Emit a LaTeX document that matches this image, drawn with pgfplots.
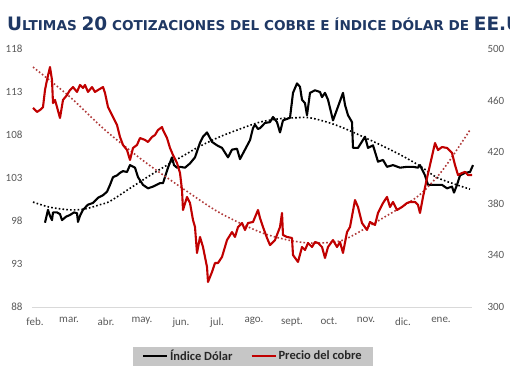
\documentclass[border=0pt]{standalone}
\usepackage{fontspec}
\setmainfont{Carlito}
\newfontfamily\titlefont{DejaVu Sans}
\usepackage{pgfplots}
\pgfplotsset{compat=1.18}
\usepackage{pgfplotstable}

\definecolor{titleblue}{HTML}{1F3864}
\definecolor{cured}{HTML}{C00000}
\definecolor{trendred}{HTML}{B03A3A}
\definecolor{tickgray}{HTML}{595959}
\definecolor{leggray}{HTML}{C6C6C6}
\definecolor{axgray}{HTML}{D9D9D9}

% t = position along the time axis (feb. = 35 ... ene. = 441), v = value
\pgfplotstableread{
t v
45 97.8
48 99.3
50 98.6
52 98.1
53 99.0
57 99.0
60 98.8
62 98.1
66 98.5
70 98.7
74 99.0
77 98.9
78 97.9
80 98.6
83 99.3
88 99.9
93 100.1
98 100.7
103 101.0
107 101.4
110 102.2
113 103.1
117 103.3
120 103.6
123 103.8
127 103.7
130 104.5
135 104.2
138 103.1
143 102.2
148 101.8
153 102.0
160 102.4
163 102.4
168 104.2
172 105.4
174 104.5
177 104.2
180 104.3
185 104.2
190 104.7
195 105.4
200 107.1
203 107.8
207 108.3
212 107.2
217 106.8
222 106.5
228 105.4
232 106.3
237 106.4
240 105.2
245 106.3
250 107.4
253 108.8
255 109.2
258 108.7
260 108.8
265 109.4
270 109.5
273 110.1
277 109.5
280 108.3
283 109.7
290 110.0
293 112.9
297 114.0
300 113.6
302 112.1
305 111.7
307 110.3
310 112.9
315 113.2
320 113.0
322 112.4
325 112.9
328 112.1
333 109.7
338 111.3
343 112.9
345 111.5
348 110.3
352 109.5
353 106.5
358 106.5
365 107.8
368 106.5
373 106.8
378 104.9
383 105.1
387 104.3
393 104.5
400 104.2
407 104.3
413 104.3
418 104.2
420 104.5
425 103.3
428 102.2
435 102.2
442 102.2
447 101.8
452 102.0
454 101.3
457 102.2
460 103.3
465 103.6
470 103.7
473 104.5
}\dolar

\pgfplotstableread{
t v
33 454.3
37 451.2
40 452.7
43 455.0
45 468.2
47 476.0
50 486.0
52 476.0
53 458.1
55 460.5
57 455.0
60 446.5
63 460.5
67 464.3
70 468.2
73 470.5
77 466.7
80 472.1
83 469.8
85 472.1
88 466.7
92 470.5
95 466.7
98 468.2
103 470.5
105 465.9
108 455.0
113 447.3
117 441.1
120 431.8
123 425.6
127 421.7
130 414.0
133 423.3
137 425.6
140 431.0
145 429.5
148 427.9
152 431.8
155 433.3
158 437.2
162 439.5
163 437.2
167 431.0
170 423.3
173 417.8
177 411.6
180 403.9
182 390.7
183 375.2
187 385.3
190 380.6
193 367.4
195 362.0
197 341.9
200 354.3
203 346.5
207 331.0
208 319.4
212 327.1
215 334.1
218 334.1
222 338.8
227 351.9
232 358.1
235 354.3
238 362.0
242 365.1
245 359.7
248 365.1
253 365.9
258 375.2
260 369.0
263 362.0
267 353.5
270 348.0
275 351.9
280 362.0
282 372.9
283 355.8
287 354.3
292 353.5
293 340.3
298 334.9
302 346.5
305 344.2
308 349.6
312 346.5
315 350.4
318 349.6
322 346.5
325 338.0
328 346.5
333 351.9
337 346.5
340 350.4
343 341.9
347 358.1
350 362.0
355 382.9
358 377.5
362 365.1
367 359.7
370 365.9
375 363.6
378 372.9
383 380.6
387 385.3
390 377.5
393 381.4
397 375.2
402 377.5
407 380.6
410 381.4
415 381.4
418 379.1
420 372.9
423 385.3
427 400.0
430 410.1
435 427.1
438 421.7
442 424.0
447 423.3
452 419.4
455 410.1
458 402.3
462 403.9
465 404.7
468 402.3
472 402.3
}\cobre

\pgfplotstableread{
t v
33 100.2
50 99.6
70 99.3
85 99.4
100 99.9
110 100.3
130 101.8
150 103.3
170 104.7
185 105.7
200 106.7
220 107.8
240 108.7
260 109.5
280 109.9
295 110.0
310 110.0
335 109.2
363 107.8
397 105.9
420 104.4
438 103.0
470 101.7
}\dolartrend

\pgfplotstableread{
t v
33 486.0
70 462.8
105 437.2
145 412.4
185 390.7
220 372.9
260 358.1
288 351.9
310 349.6
335 350.4
350 354.3
383 369.0
417 385.3
437 400.8
450 414.0
470 437.2
}\cobretrend

\begin{document}
\begin{tikzpicture}[x=1pt,y=1pt]
\useasboundingbox (-32,-75) rectangle (478,307);
\begin{scope}
\clip (-32,-75) rectangle (478,307);
\node[anchor=base west, inner sep=0, text=titleblue] at (-25,276)
 {\titlefont\bfseries{\fontsize{18.5}{18}\selectfont U}{\fontsize{13.6}{13}\selectfont LTIMAS }{\fontsize{18.5}{18}\selectfont 20}{\fontsize{13.6}{13}\selectfont{} COTIZACIONES DEL COBRE E ÍNDICE DÓLAR DE }{\fontsize{18.5}{18}\selectfont EE.UU.}};
\end{scope}

\begin{axis}[
  width=440pt, height=258pt, scale only axis,
  xmin=32, xmax=472, ymin=88, ymax=118,
  ytick={88,93,98,103,108,113,118},
  xtick={35,69,106,142,181,217,254,292,329,366,403,441},
  xticklabels={feb.,mar.,abr.,may.,jun.,jul.,ago.,sept.,oct.,nov.,dic.,ene.},
  ytick pos=left, xtick pos=bottom,
  axis line style={draw=none},
  major tick length=0pt,
  tick label style={font=\fontsize{11}{13}\selectfont, text=tickgray},
  /pgf/number format/assume math mode=true,
  yticklabel style={xshift=-6pt},
  xticklabel style={yshift=-7pt},
  clip=false,
]
\draw[axgray, line width=0.8pt] (rel axis cs:0,0) -- (rel axis cs:1,0);
\addplot[black, dash pattern=on 1.6pt off 2.2pt, line width=1.6pt, smooth] table[x=t,y=v] {\dolartrend};
\addplot[black, line width=2.1pt, line join=round] table[x=t,y=v] {\dolar};
\end{axis}

\begin{axis}[
  width=440pt, height=258pt, scale only axis,
  xmin=32, xmax=472, ymin=300, ymax=500,
  ytick={300,340,380,420,460,500},
  xtick=\empty,
  ytick pos=right,
  axis line style={draw=none},
  major tick length=0pt,
  tick label style={font=\fontsize{11}{13}\selectfont, text=tickgray},
  /pgf/number format/assume math mode=true,
  yticklabel style={xshift=12pt},
  clip=false,
  legend style={at={(0.502,-0.19)}, anchor=center, fill=leggray, draw=none,
    font=\fontsize{12.5}{14}\selectfont\bfseries, text=black!85,
    inner xsep=9pt, inner ysep=1.5pt,
    /tikz/every even column/.append style={column sep=16pt}},
  legend columns=2,
  legend image code/.code={\draw[#1] (0pt,0pt) -- (24pt,0pt);},
]
\addlegendimage{black, line width=2pt}
\addlegendentry{Índice Dólar}
\addplot[trendred, dash pattern=on 1.6pt off 2.2pt, line width=1.6pt, smooth, forget plot] table[x=t,y=v] {\cobretrend};
\addplot[cured, line width=2.1pt, line join=round] table[x=t,y=v] {\cobre};
\addlegendentry{Precio del cobre}
\end{axis}
\end{tikzpicture}
\end{document}
